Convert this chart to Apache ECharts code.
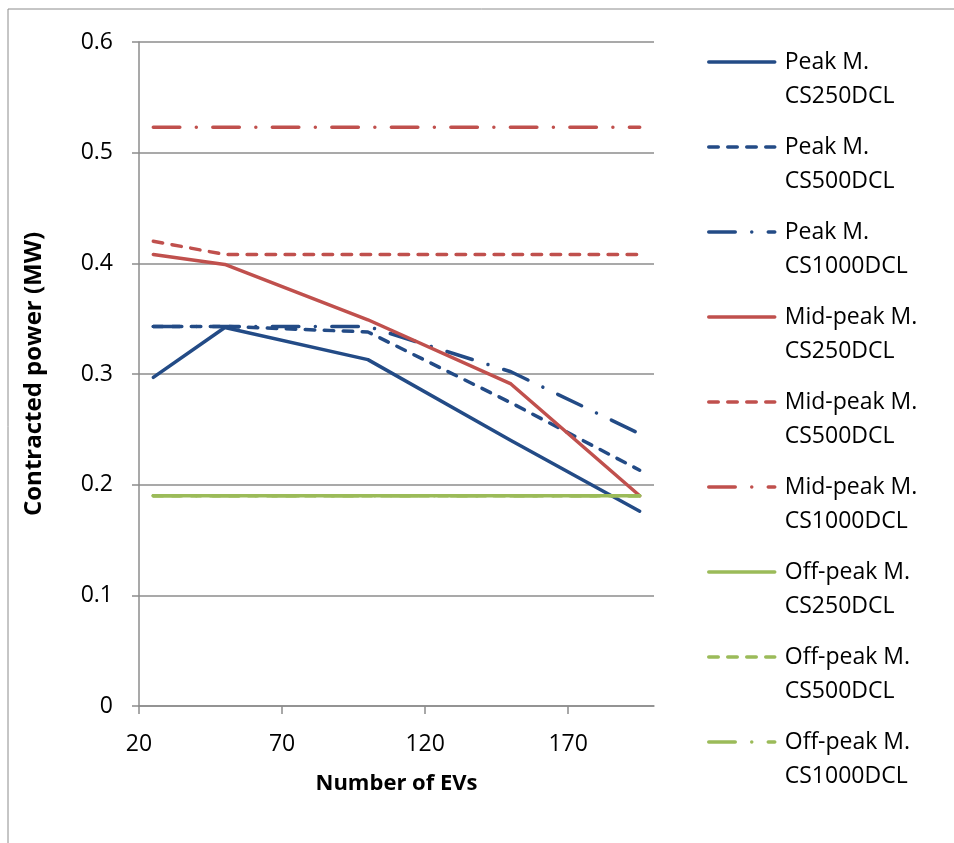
<!DOCTYPE html>
<html>
<head>
<meta charset="utf-8">
<script src="https://cdn.jsdelivr.net/npm/echarts@6/dist/echarts.min.js"></script>
<style>
  html, body { margin: 0; padding: 0; background: #ffffff; }
  #chart { width: 954px; height: 843px; }
</style>
</head>
<body>
<div id="chart"></div>
<script>
// Number of EVs in the station (x values)
const evCounts = [25, 50, 100, 150, 195];

// Contracted power (MW) per tariff model and charging-station configuration
const peakCS250 = [0.297, 0.342, 0.313, 0.240, 0.176];
const peakCS500 = [0.343, 0.343, 0.338, 0.274, 0.213];
const peakCS1000 = [0.343, 0.343, 0.343, 0.302, 0.246];
const midCS250 = [0.408, 0.399, 0.349, 0.291, 0.190];
const midCS500 = [0.420, 0.408, 0.408, 0.408, 0.408];
const midCS1000 = [0.523, 0.523, 0.523, 0.523, 0.523];
const offCS250 = [0.190, 0.190, 0.190, 0.190, 0.190];
const offCS500 = [0.190, 0.190, 0.190, 0.190, 0.190];
const offCS1000 = [0.190, 0.190, 0.190, 0.190, 0.190];

const seriesNames = [
  'Peak M.\nCS250DCL', 'Peak M.\nCS500DCL', 'Peak M.\nCS1000DCL',
  'Mid-peak M.\nCS250DCL', 'Mid-peak M.\nCS500DCL', 'Mid-peak M.\nCS1000DCL',
  'Off-peak M.\nCS250DCL', 'Off-peak M.\nCS500DCL', 'Off-peak M.\nCS1000DCL'
];

const xTicks = [20, 70, 120, 170];

const BLUE = '#234B86';
const RED = '#C0504D';
const GREEN = '#9BBB59';
const GRID_GRAY = '#8c8c8c';
const FONT = '"Open Sans", "Liberation Sans", sans-serif';
const LW = 3.5;

const DASH_SHORT = [9.5, 9.5];
const DASH_DOT = [26.5, 16.5, 0.01, 16.5];

const seriesDefs = [
  [peakCS250, BLUE, 'solid'],
  [peakCS500, BLUE, DASH_SHORT],
  [peakCS1000, BLUE, DASH_DOT],
  [midCS250, RED, 'solid'],
  [midCS500, RED, DASH_SHORT],
  [midCS1000, RED, DASH_DOT],
  [offCS250, GREEN, 'solid'],
  [offCS500, GREEN, DASH_SHORT],
  [offCS1000, GREEN, DASH_DOT]
];

const series = seriesDefs.map(([vals, color, dash], i) => ({
  name: seriesNames[i],
  type: 'line',
  symbol: 'none',
  showSymbol: false,
  animation: false,
  data: evCounts.map((x, k) => [x, vals[k]]),
  itemStyle: { color: color },
  lineStyle: { color: color, width: LW, type: dash, cap: 'round', join: 'round' }
}));

const chart = echarts.init(document.getElementById('chart'), null, { renderer: 'canvas' });

chart.setOption({
  backgroundColor: '#ffffff',
  animation: false,
  textStyle: { fontFamily: FONT },
  graphic: [{
    type: 'rect',
    shape: { x: 8, y: 9, width: 1000, height: 900 },
    style: { fill: 'none', stroke: '#8c8c8c', lineWidth: 1 },
    silent: true,
    z: -10
  }],
  grid: { left: 139, right: 300, top: 42, bottom: 137, containLabel: false },
  legend: {
    orient: 'vertical',
    left: 707,
    top: 11,
    padding: 0,
    itemWidth: 66,
    itemHeight: 14,
    itemGap: -17,
    data: seriesNames,
    itemStyle: { opacity: 0 },
    lineStyle: { width: LW, cap: 'round' },
    textStyle: {
      fontFamily: FONT,
      fontSize: 23,
      color: '#000000',
      lineHeight: 34,
      padding: [0, 0, 0, 5]
    },
    formatter: function (name) { return '\n' + name; }
  },
  xAxis: {
    type: 'value',
    min: 20,
    max: 200,
    name: 'Number of EVs',
    nameLocation: 'middle',
    nameGap: 67,
    nameTextStyle: { fontFamily: FONT, fontSize: 22, fontWeight: 'bold', color: '#000000' },
    axisLine: { show: true, onZero: false, lineStyle: { color: GRID_GRAY, width: 1.5 } },
    axisTick: { show: true, customValues: xTicks, length: 8, lineStyle: { color: GRID_GRAY, width: 1.5 } },
    axisLabel: { show: true, customValues: xTicks, margin: 27, fontFamily: FONT, fontSize: 23, color: '#000000' },
    splitLine: { show: false }
  },
  yAxis: {
    type: 'value',
    min: 0,
    max: 0.6,
    interval: 0.1,
    name: 'Contracted power (MW)',
    nameLocation: 'middle',
    nameGap: 93,
    nameTextStyle: { fontFamily: FONT, fontSize: 24, fontWeight: 'bold', color: '#000000' },
    axisLine: { show: true, lineStyle: { color: GRID_GRAY, width: 1.5 } },
    axisTick: { show: true, length: 7, lineStyle: { color: GRID_GRAY, width: 1.5 } },
    axisLabel: {
      margin: 26,
      fontFamily: FONT,
      fontSize: 23,
      color: '#000000',
      formatter: function (v) { return String(Math.round(v * 10) / 10); }
    },
    splitLine: { show: true, lineStyle: { color: GRID_GRAY, width: 1.5 } }
  },
  series: series
});
</script>
</body>
</html>
